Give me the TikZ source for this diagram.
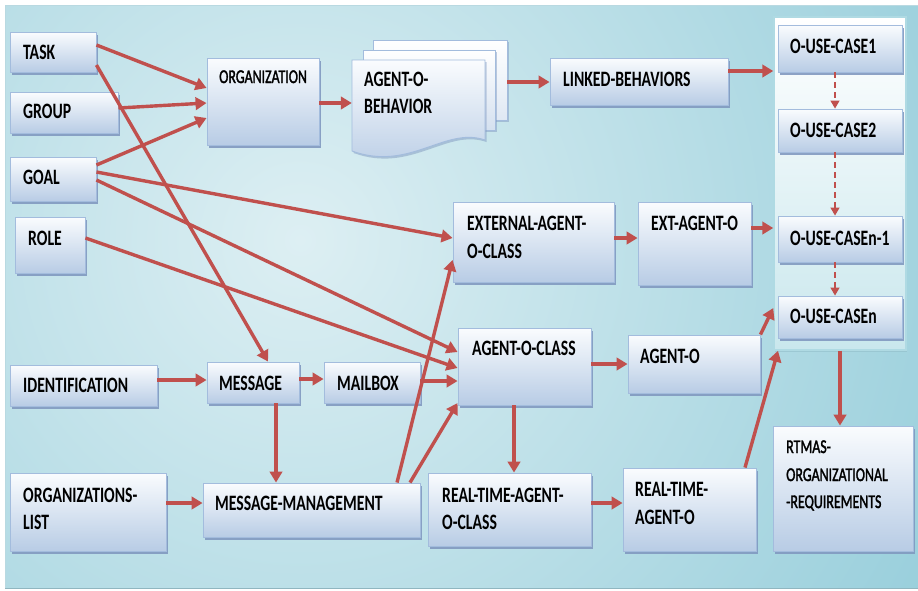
\documentclass[tikz,border=0pt]{standalone}
\usepackage{fontspec}
\setmainfont{Carlito}
\usepackage{graphicx}
\usetikzlibrary{shadows,fit,arrows.meta,calc}
\definecolor{arr}{HTML}{C0504D}
\definecolor{bgin}{HTML}{DDEFF3}
\definecolor{bgout}{HTML}{97CEDB}
\definecolor{bgedge}{HTML}{B9D9E1}
\definecolor{boxtop}{HTML}{FAFCFE}
\definecolor{boxbot}{HTML}{B8CCE5}
\definecolor{boxborder}{HTML}{A3BCDD}
\definecolor{boxshadow}{HTML}{8199C0}
\definecolor{uctop}{HTML}{FFFFFF}
\definecolor{ucbot}{HTML}{C9E7ED}
\definecolor{ucborder}{HTML}{AFDAE3}
\tikzset{
  box/.style={draw=boxborder, line width=0.9pt, top color=boxtop, bottom color=boxbot,
    inner sep=0pt, drop shadow={shadow xshift=1.5pt, shadow yshift=-2.6pt, fill=boxshadow, opacity=0.9}},
  ucbox/.style={draw=ucborder, line width=1.5pt, top color=uctop, bottom color=ucbot,
    inner sep=0pt, drop shadow={shadow xshift=1.2pt, shadow yshift=-2pt, fill=bgout!80!gray, opacity=0.6}},
  page/.style={draw=boxborder, line width=0.9pt, drop shadow={shadow xshift=1.5pt, shadow yshift=-2pt, fill=boxshadow, opacity=0.5}},
  ghost/.style={inner sep=0pt},
  tbold/.style={font=\fontsize{15.7}{18}\selectfont\bfseries, inner sep=0pt, text=black, anchor=base west},
  treg/.style={font=\fontsize{13.9}{17}\selectfont, inner sep=0pt, text=black, anchor=base west},
  conn/.style={draw=arr, line width=3.4pt, -{Triangle[length=11pt,width=12.5pt]}},
  dconn/.style={draw=arr, line width=1.3pt, dash pattern=on 6pt off 4pt, -{Triangle[length=8pt,width=9pt]}}
}
\newcommand\Emb[1]{\special{pdf:literal direct 2 Tr 0.28 w}#1\special{pdf:literal direct 0 Tr}}
\newcommand\TxtB[4]{\node[tbold] (#1) at (#2,#3) {\scalebox{1}[1.4]{#4}};}
\newcommand\TxtR[4]{\node[treg] (#1) at (#2,#3) {\scalebox{1}[1.4]{\Emb{#4}}};}
\begin{document}
\begin{tikzpicture}[x=1pt,y=-1pt]
\useasboundingbox (0,0) rectangle (918,590);
% background
\fill[white] (0,0) rectangle (918,590);
\begin{scope}
  \clip (5,5) rectangle (918,588);
  \shade[inner color=bgin, outer color=bgout] (300,240) circle (740pt);
\end{scope}
\draw[bgedge, line width=0.8pt] (5,588) -- (5,5) -- (918,5);
\draw[bgout!70!gray, line width=0.8pt] (5,588) -- (918,588);

% use case container
\node[ucbox, fit={(774,17) (906,350)}] (usecases) {};

% boxes
\node[box, fit={(10,32) (96,72)}] (task) {};
\node[box, fit={(10,92) (118,133)}] (group) {};
\node[box, fit={(10,157) (96,201)}] (goal) {};
\node[box, fit={(15,217) (85,273)}] (role) {};
\node[box, fit={(207,58) (319,145)}] (org) {};
\node[box, fit={(550,58) (728,105)}] (linked) {};
\node[box, fit={(778,25) (902,72)}] (uc1) {};
\node[box, fit={(778,109) (902,152)}] (uc2) {};
\node[box, fit={(778,216) (902,262)}] (ucn1) {};
\node[box, fit={(778,296) (902,338)}] (ucn) {};
\node[box, fit={(453,202) (614,282)}] (extclass) {};
\node[box, fit={(638,202) (751,285)}] (extao) {};
\node[box, fit={(458,328) (591,405)}] (aoc) {};
\node[box, fit={(628,335) (760,393)}] (ao) {};
\node[box, fit={(428,473) (591,546)}] (rtaoc) {};
\node[box, fit={(623,468) (756,551)}] (rtao) {};
\node[box, fit={(773,426) (913,551)}] (rtmas) {};
\node[box, fit={(10,365) (157,406)}] (ident) {};
\node[box, fit={(207,362) (299,403)}] (msg) {};
\node[box, fit={(324,362) (420,403)}] (mailbox) {};
\node[box, fit={(10,473) (166,551)}] (orglist) {};
\node[box, fit={(203,483) (420,537)}] (mm) {};

% multi-document shape
\node[ghost, fit={(352,40) (507,155)}] (aobstack) {};
\node[ghost, fit={(352,60) (485,150)}] (aobdoc) {};
\path[page, top color=white, bottom color=boxbot!45] (373,40) rectangle (507,120);
\path[page, top color=white, bottom color=boxbot!60] (363,50) rectangle (495,130);
\path[page, top color=boxtop, bottom color=boxbot]
  (352,60) -- (485,60) -- (485,140) .. controls (445,126) and (410,172) .. (352,151) -- cycle;

% texts
\TxtB{t-task}{23}{59}{TASK}
\TxtB{t-group}{23}{118}{GROUP}
\TxtB{t-goal}{23}{184}{GOAL}
\TxtB{t-role}{28}{245}{ROLE}
\TxtR{t-org}{219}{83}{ORGANIZATION}
\TxtB{t-aob1}{364}{86}{AGENT-O-}
\TxtB{t-aob2}{364}{113}{BEHAVIOR}
\TxtB{t-linked}{563}{86}{LINKED-BEHAVIORS}
\TxtB{t-uc1}{790}{53}{O-USE-CASE1}
\TxtB{t-uc2}{790}{137}{O-USE-CASE2}
\TxtB{t-ucn1}{790}{245}{O-USE-CASEn-1}
\TxtB{t-ucn}{790}{323}{O-USE-CASEn}
\TxtB{t-ext1}{467}{230}{EXTERNAL-AGENT-}
\TxtB{t-ext2}{467}{258}{O-CLASS}
\TxtB{t-extao}{651}{230}{EXT-AGENT-O}
\TxtB{t-aoc}{472}{355}{AGENT-O-CLASS}
\TxtB{t-ao}{640}{363}{AGENT-O}
\TxtB{t-rtaoc1}{442}{502}{REAL-TIME-AGENT-}
\TxtB{t-rtaoc2}{442}{529}{O-CLASS}
\TxtB{t-rtao1}{635}{496}{REAL-TIME-}
\TxtB{t-rtao2}{635}{524}{AGENT-O}
\TxtR{t-rtmas1}{786}{453}{RTMAS-}
\TxtR{t-rtmas2}{786}{481}{ORGANIZATIONAL}
\TxtR{t-rtmas3}{786}{508}{-REQUIREMENTS}
\TxtB{t-ident}{23}{392}{IDENTIFICATION}
\TxtB{t-msg}{219}{390}{MESSAGE}
\TxtB{t-mailbox}{337}{390}{MAILBOX}
\TxtB{t-orgl1}{23}{502}{ORGANIZATIONS-}
\TxtB{t-orgl2}{23}{529}{LIST}
\TxtB{t-mm}{215}{510}{MESSAGE-MANAGEMENT}

% connectors
\draw[conn] (task.east |- 0,45) -- (org.west |- 0,88);
\draw[conn] (group.east |- 0,108) -- (org.west |- 0,103);
\draw[conn] (goal.east |- 0,165) -- (org.west |- 0,118);
\draw[conn] (task.east |- 0,65) -- (msg.north -| 268,0);
\draw[conn] (goal.east |- 0,172) -- (extclass.west |- 0,238);
\draw[conn] (goal.east |- 0,180) -- (aoc.west |- 0,352);
\draw[conn] (role.east |- 0,238) -- (aoc.west |- 0,368);
\draw[conn] (ident.east |- 0,380) -- (msg.west |- 0,380);
\draw[conn] (msg.east |- 0,379) -- (mailbox.west |- 0,379);
\draw[conn] (mailbox.east |- 0,381) -- (aoc.west |- 0,381);
\draw[conn] (msg.south -| 276,0) -- (mm.north -| 276,0);
\draw[conn] (orglist.east |- 0,503) -- (mm.west |- 0,503);
\draw[conn] (mm.north -| 397,0) -- (extclass.west |- 0,260);
\draw[conn] (mm.north -| 410,0) -- (aoc.west |- 0,403);
\draw[conn] (org.east |- 0,103) -- (aobdoc.west |- 0,103);
\draw[conn] (aobstack.east |- 0,82) -- (linked.west |- 0,82);
\draw[conn] (linked.east |- 0,71) -- (usecases.west |- 0,71);
\draw[conn] (extclass.east |- 0,238) -- (extao.west |- 0,238);
\draw[conn] (extao.east |- 0,228) -- (usecases.west |- 0,228);
\draw[conn] (aoc.east |- 0,364) -- (ao.west |- 0,364);
\draw[conn] (aoc.south -| 514,0) -- (rtaoc.north -| 514,0);
\draw[conn] (rtaoc.east |- 0,503) -- (rtao.west |- 0,503);
\draw[conn] (ao.north east) -- (usecases.west |- 0,308);
\draw[conn] (rtao.north -| 745,0) -- (usecases.south -| 778,0);
\draw[conn] (usecases.south -| 840,0) -- (rtmas.north -| 840,0);
\draw[dconn] (uc1.south -| 835,0) -- (uc2.north -| 835,0);
\draw[dconn] (uc2.south -| 835,0) -- (ucn1.north -| 835,0);
\draw[dconn] (ucn1.south -| 835,0) -- (ucn.north -| 835,0);
\end{tikzpicture}
\end{document}
